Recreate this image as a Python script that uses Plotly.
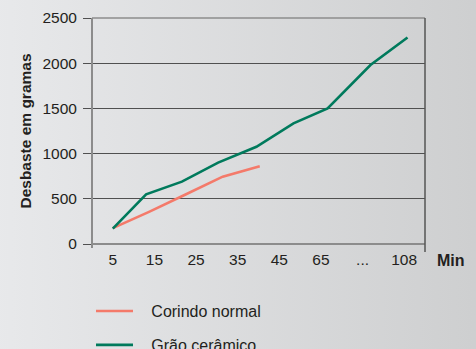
import base64

import plotly.graph_objects as go

# x positions are in category units (0 = "5", 7 = "108")
x_labels = ["5", "15", "25", "35", "45", "65", "...", "108"]

corindo_x = [0, 0.87, 1.76, 2.64, 3.53]
corindo_y = [175, 355, 550, 745, 860]

ceramico_x = [0, 0.8, 1.66, 2.53, 3.45, 4.34, 5.16, 6.19, 7.08]
ceramico_y = [170, 550, 690, 900, 1075, 1335, 1500, 1980, 2285]

y_ticks = [0, 500, 1000, 1500, 2000, 2500]

FONT = "Liberation Sans, Arial, sans-serif"
TEXT = "#231f20"
PAD = "\u00a0" * 3  # gap between legend line and label

# soft left-to-right grey gradient for the background
svg = (
    '<svg xmlns="http://www.w3.org/2000/svg" width="476" height="349" preserveAspectRatio="none">'
    '<defs><linearGradient id="g" x1="0" x2="1" y1="0" y2="0">'
    '<stop offset="0" stop-color="#e8e9eb"/><stop offset="1" stop-color="#cdcecf"/>'
    '</linearGradient></defs><rect width="476" height="349" fill="url(#g)"/></svg>'
)
bg_src = "data:image/svg+xml;base64," + base64.b64encode(svg.encode()).decode()

fig = go.Figure()

fig.add_trace(
    go.Scatter(
        x=corindo_x,
        y=corindo_y,
        mode="lines",
        name=PAD + "Corindo normal",
        legendgroup="a",
        line=dict(color="#f47a6a", width=2.6),
    )
)
fig.add_trace(
    go.Scatter(
        x=ceramico_x,
        y=ceramico_y,
        mode="lines",
        name=PAD + "Grão cerâmico",
        legendgroup="b",
        line=dict(color="#007a5c", width=2.6),
    )
)

# plot frame: grey left/bottom/top, dark right edge running a bit below the axis
fig.add_shape(type="line", xref="paper", yref="paper", x0=0, x1=1, y0=0, y1=0,
              line=dict(color="#8c8c8c", width=2))
fig.add_shape(type="line", xref="paper", yref="paper", x0=0, x1=1, y0=1, y1=1,
              line=dict(color="#8c8c8c", width=1.5))
fig.add_shape(type="line", xref="paper", yref="paper", x0=0, x1=0, y0=-0.018, y1=1,
              line=dict(color="#8c8c8c", width=2))
fig.add_shape(type="line", xref="paper", yref="paper", x0=1, x1=1, y0=-0.035, y1=1,
              line=dict(color="#555555", width=1.5))

fig.add_annotation(
    text="<b>Min</b>", xref="paper", yref="paper", x=1.03, y=-0.071,
    xanchor="left", yanchor="middle", showarrow=False,
    font=dict(family=FONT, size=16, color=TEXT),
)

fig.add_layout_image(
    source=bg_src, xref="paper", yref="paper", x=-0.3, y=1.12,
    sizex=1.5, sizey=1.65, sizing="stretch", layer="below",
)

fig.update_layout(
    width=476,
    height=349,
    margin=dict(l=92, r=51, t=18, b=105, autoexpand=False),
    paper_bgcolor="#dcdddf",
    plot_bgcolor="rgba(0,0,0,0)",
    font=dict(family=FONT, size=15.5, color=TEXT),
    showlegend=True,
    legend=dict(
        x=-0.003, y=-0.222, xanchor="left", yanchor="top",
        bgcolor="rgba(0,0,0,0)", itemwidth=37, tracegroupgap=10,
        font=dict(family=FONT, size=16, color=TEXT),
    ),
    xaxis=dict(
        range=[-0.5, 7.5],
        tickvals=list(range(len(x_labels))),
        ticktext=x_labels,
        showgrid=False,
        zeroline=False,
        showline=False,
        ticks="",
        ticklabelstandoff=4,
        fixedrange=True,
    ),
    yaxis=dict(
        range=[0, 2500],
        tickvals=y_ticks,
        showgrid=True,
        gridcolor="#505050",
        gridwidth=1.2,
        zeroline=False,
        showline=False,
        ticks="outside",
        ticklen=8,
        tickcolor="#505050",
        tickwidth=1.2,
        ticklabelstandoff=3,
        title=dict(text="<b>Desbaste em gramas</b>", standoff=6,
                   font=dict(family=FONT, size=15.5, color=TEXT)),
        fixedrange=True,
    ),
)

# the page's default body margin would shift the figure by 8px
fig.write_html(
    "out.html",
    config={"displayModeBar": False},
    post_script="document.body.style.margin='0';",
)
